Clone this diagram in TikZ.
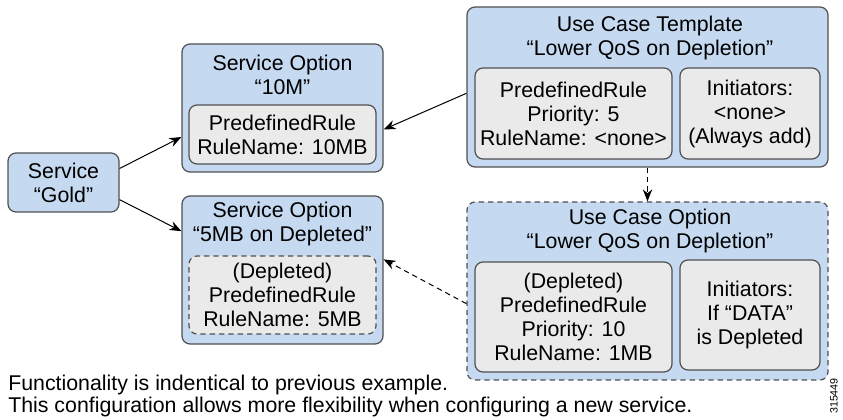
\documentclass[tikz,border=0pt]{standalone}
\usepackage{fontspec}
\setmainfont{Liberation Sans}
\usepackage{xcolor}
\definecolor{boxblue}  {RGB}{197,217,240}
\definecolor{rulegrey} {RGB}{234,234,234}
\definecolor{edgegrey} {RGB}{80,80,80}
\usetikzlibrary{arrows.meta}
\newcommand{\boxfont}{\fontsize{16}{18}\selectfont}
\tikzset{ % boxes and links
outerbox/.style={draw=edgegrey, fill=boxblue, line width=0.9pt, rounded corners=6pt, inner sep=0pt, align=center, font=\boxfont},
rulebox/.style={draw=edgegrey, fill=rulegrey, line width=0.9pt, rounded corners=6pt, inner sep=0pt, align=center, font=\boxfont},
title/.style={align=center, font=\boxfont},
link/.style={-{Stealth[length=9pt,width=7pt]}, line width=0.75pt},
dashlink/.style={link, dash pattern=on 4pt off 3pt},
note/.style={anchor=west, inner sep=0pt, font=\boxfont},
}

\begin{document}
\begin{tikzpicture}[x=0.75pt, y=-0.75pt]
            \useasboundingbox (0,0) rectangle (843,420);
            % left side
            \node [outerbox, minimum width=83.25pt, minimum height=44.25pt] (gold) at (63.5,182.5) {Service\\“Gold”};
            \node [outerbox, minimum width=150.75pt, minimum height=96pt] (opt10) at (282.5,108) {};
            \node [title] (opt10title) at (282.5,75) {Service Option\\“10M”};
            \node [rulebox, minimum width=140.25pt, minimum height=44.25pt] (rule10) at (282.5,134.5) {PredefinedRule\\RuleName: 10MB};
            \node [outerbox, minimum width=150.75pt, minimum height=111pt] (opt5) at (282.5,270) {};
            \node [title] (opt5title) at (282.5,223.5) {Service Option\\“5MB on Depleted”};
            \node [rulebox, dash pattern=on 4pt off 3pt, minimum width=140.25pt, minimum height=58.5pt] (rule5) at (282.5,295) {(Depleted)\\PredefinedRule\\RuleName: 5MB};
            % right side
            \node [outerbox, minimum width=270.75pt, minimum height=120pt] (tmpl) at (647.5,87) {};
            \node [title] (tmpltitle) at (650,38) {Use Case Template\\“Lower QoS on Depletion”};
            \node [rulebox, minimum width=147.75pt, minimum height=68.25pt] (tmplrule) at (573.5,113.5) {PredefinedRule\\Priority: 5\\RuleName: <none>};
            \node [rulebox, minimum width=105pt, minimum height=68.25pt] (tmplinit) at (750,113.5) {Initiators:\\<none>\\(Always add)};
            \node [outerbox, dash pattern=on 4pt off 3pt, minimum width=270.75pt, minimum height=133.5pt] (ucopt) at (647.5,291) {};
            \node [title] (ucopttitle) at (650,230.5) {Use Case Option\\“Lower QoS on Depletion”};
            \node [rulebox, minimum width=147.75pt, minimum height=82.5pt] (ucrule) at (573.5,317) {(Depleted)\\PredefinedRule\\Priority: 10\\RuleName: 1MB};
            \node [rulebox, minimum width=105pt, minimum height=82.5pt] (ucinit) at (750,315) {Initiators:\\If “DATA”\\is Depleted};
            % links
            \draw [link] (gold.14) -- (opt10.196);
            \draw [link] (gold.-17) -- (opt5.159);
            \draw [link] (tmpl.182) -- (opt10.-12);
            \draw [dashlink] (tmpl.south) -- (ucopt.north);
            \draw [dashlink] (ucopt.184) -- (opt5.6);
            % notes
            \node [note] (note1) at (8,385) {Functionality is indentical to previous example.};
            \node [note] (note2) at (8,407) {This configuration allows more flexibility when configuring a new service.};
            \node [rotate=90, font=\fontsize{8}{9}\selectfont, inner sep=0pt] (fignum) at (834,396) {315449};
\end{tikzpicture}
\end{document}
